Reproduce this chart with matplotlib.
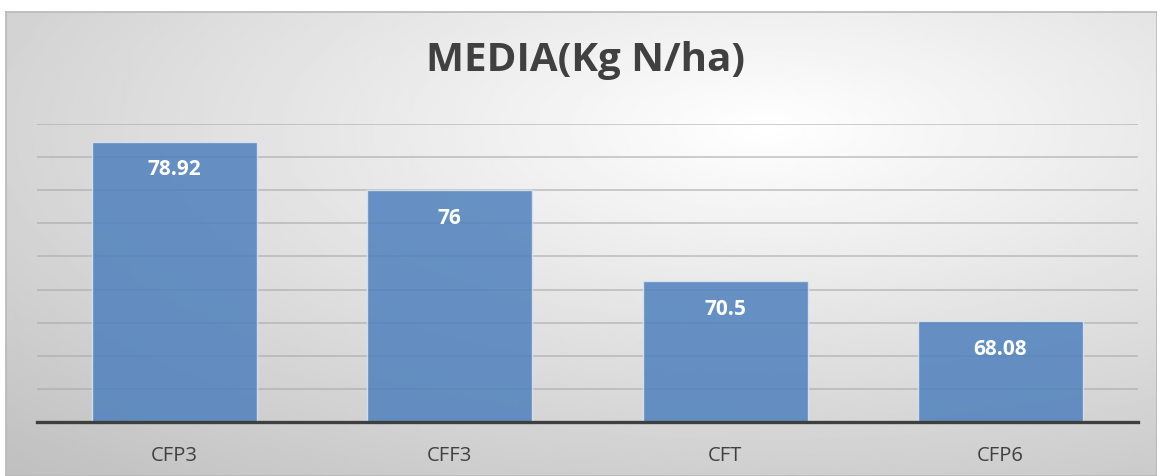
import numpy as np
import matplotlib
matplotlib.use("Agg")
import matplotlib.pyplot as plt

# === Data ===
categories = ["CFP3", "CFF3", "CFT", "CFP6"]
values = [78.92, 76, 70.5, 68.08]
value_labels = ["78.92", "76", "70.5", "68.08"]
title = "MEDIA(Kg N/ha)"

W, H = 1157, 476
fig = plt.figure(figsize=(W / 100, H / 100), dpi=100)
fig.patch.set_facecolor("white")

# === Background frame with radial gradient ===
bg = fig.add_axes([6 / W, 0, (W - 6) / W, (H - 12) / H])
gh, gw = 232, 576
yy, xx = np.mgrid[0:gh, 0:gw]
cx, cy = 0.66 * gw, 0.25 * gh
dist = np.sqrt(((xx - cx) / gw) ** 2 + ((yy - cy) / gh) ** 2)
dist = dist / dist.max()
grad = 1.0 - 0.25 * dist
bg.imshow(grad, cmap="gray", vmin=0, vmax=1, aspect="auto",
          extent=[0, 1, 0, 1], interpolation="bilinear")
bg.set_xlim(0, 1)
bg.set_ylim(0, 1)
bg.set_xticks([])
bg.set_yticks([])
for s in bg.spines.values():
    s.set_color("#b8b8b8")
    s.set_linewidth(1.2)

# === Main plot ===
ax = fig.add_axes([37 / W, (H - 422) / H, (1138 - 37) / W, (422 - 124) / H])
ax.patch.set_alpha(0)
x = np.arange(len(categories))
ax.set_xlim(-0.5, len(categories) - 0.5)
ax.set_ylim(62, 80)

for yv in np.arange(64, 81, 2):
    ax.axhline(yv, color="#a8a8a8", linewidth=1.3, alpha=0.6, zorder=1)

ax.bar(x, np.array(values) - 62, bottom=62, width=0.6, color="#4f81bd",
       alpha=0.85, edgecolor="#dce6f2", linewidth=1.0, zorder=2)

for xi, v, lab in zip(x, values, value_labels):
    ax.annotate(lab, (xi, v), xytext=(0, -28), textcoords="offset pixels",
                ha="center", va="center", color="white", fontsize=15,
                fontweight="bold", family="Open Sans", zorder=4)

ax.axhline(62, color="#3f3f3f", linewidth=2.4, zorder=3, clip_on=False)

ax.set_xticks(x)
ax.set_xticklabels(categories, fontsize=14.5, color="#404040", family="Open Sans")
ax.tick_params(axis="x", length=0, pad=17)
ax.set_yticks([])
for s in ax.spines.values():
    s.set_visible(False)

fig.text(586 / W, 1 - 60 / H, title, ha="center", va="center", fontsize=29,
         fontweight="bold", color="#404040", family="Open Sans")

fig.savefig("out.png", dpi=100)
